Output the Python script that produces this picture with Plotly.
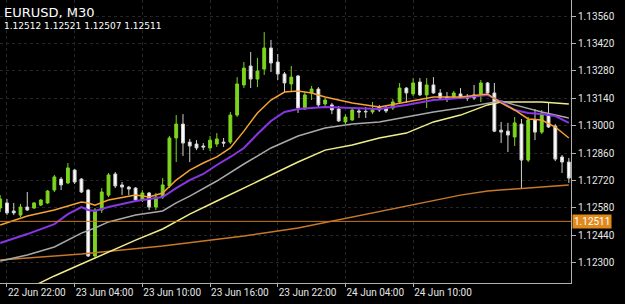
import plotly.graph_objects as go

# ---------------- data ----------------
symbol_title = "EURUSD, M30"
last_ohlc = [1.12512, 1.12521, 1.12507, 1.12511]
bid_price = 1.12511

bars = list(range(85))
opens = [1.12579,1.12605,1.12564,1.12543,1.12584,1.12579,1.12594,1.12605,1.12671,1.12727,
         1.12707,1.12773,1.12727,1.12671,1.12334,1.12569,1.12645,1.12753,1.12697,1.12686,
         1.12681,1.12620,1.12656,1.12584,1.12635,1.12692,1.12937,1.13008,1.12916,1.12906,
         1.12896,1.12886,1.12906,1.12916,1.12916,1.13054,1.13208,1.13305,1.13238,1.13289,
         1.13397,1.13325,1.13264,1.13213,1.13254,1.13085,1.13167,1.13187,1.13111,1.13106,
         1.13085,1.13019,1.13029,1.13075,1.13073,1.13070,1.13095,1.13090,1.13090,1.13121,
         1.13192,1.13162,1.13223,1.13157,1.13208,1.13167,1.13146,1.13146,1.13162,1.13146,
         1.13157,1.13162,1.13218,1.13167,1.12977,1.12972,1.12942,1.13008,1.12824,1.13029,
         1.12967,1.13059,1.12998,1.12840,1.12814]
highs = [1.12645,1.12625,1.12605,1.12600,1.12661,1.12610,1.12625,1.12671,1.12748,1.12738,
         1.12809,1.12778,1.12732,1.12676,1.12579,1.12681,1.12758,1.12763,1.12712,1.12692,
         1.12686,1.12671,1.12661,1.12656,1.12732,1.12947,1.13054,1.13059,1.12932,1.12926,
         1.12911,1.12947,1.12962,1.12937,1.13070,1.13248,1.13325,1.13376,1.13346,1.13478,
         1.13438,1.13366,1.13274,1.13305,1.13259,1.13172,1.13203,1.13197,1.13141,1.13116,
         1.13100,1.13059,1.13095,1.13085,1.13095,1.13121,1.13106,1.13100,1.13136,1.13218,
         1.13197,1.13243,1.13243,1.13243,1.13248,1.13187,1.13172,1.13177,1.13192,1.13162,
         1.13208,1.13233,1.13223,1.13218,1.13019,1.13014,1.13044,1.13034,1.13044,1.13085,
         1.13080,1.13116,1.13008,1.12850,1.12835]
lows = [1.12559,1.12543,1.12543,1.12533,1.12564,1.12574,1.12589,1.12600,1.12661,1.12671,
        1.12702,1.12702,1.12656,1.12329,1.12324,1.12554,1.12635,1.12681,1.12645,1.12645,
        1.12615,1.12610,1.12569,1.12569,1.12625,1.12681,1.12814,1.12845,1.12814,1.12875,
        1.12875,1.12870,1.12891,1.12891,1.12906,1.13044,1.13192,1.13192,1.13197,1.13259,
        1.13274,1.13233,1.13167,1.13172,1.13065,1.13080,1.13131,1.13095,1.13100,1.13059,
        1.13019,1.13008,1.13024,1.13039,1.13039,1.13059,1.13070,1.13065,1.13080,1.13111,
        1.13116,1.13151,1.13151,1.13090,1.13162,1.13131,1.13121,1.13136,1.13136,1.13126,
        1.13131,1.13121,1.13162,1.12967,1.12911,1.12865,1.12896,1.12681,1.12814,1.12926,
        1.12957,1.12988,1.12819,1.12758,1.12707]
closes = [1.12625,1.12554,1.12554,1.12584,1.12569,1.12605,1.12620,1.12666,1.12738,1.12697,
          1.12784,1.12712,1.12661,1.12334,1.12569,1.12661,1.12748,1.12692,1.12686,1.12676,
          1.12620,1.12656,1.12584,1.12635,1.12697,1.12937,1.13008,1.12911,1.12896,1.12886,
          1.12891,1.12926,1.12932,1.12911,1.13054,1.13213,1.13294,1.13238,1.13279,1.13397,
          1.13320,1.13264,1.13218,1.13248,1.13090,1.13157,1.13187,1.13106,1.13131,1.13080,
          1.13024,1.13044,1.13080,1.13070,1.13071,1.13080,1.13080,1.13075,1.13121,1.13192,
          1.13167,1.13218,1.13157,1.13208,1.13167,1.13141,1.13141,1.13167,1.13141,1.13141,
          1.13141,1.13218,1.13167,1.12972,1.12967,1.12952,1.13014,1.12824,1.13029,1.12967,
          1.13059,1.12993,1.12829,1.12814,1.12732]

ma_orange_x = [0,2,4,8,10,12,13,14,16,20,22,24,26,28,30,32,34,36,38,40,42,44,46,48,52,56,60,64,68,72,74,76,78,80,82,84]
ma_orange = [1.12492,1.12513,1.12538,1.12569,1.12589,1.12610,1.12605,1.12594,1.12620,1.12645,
             1.12635,1.12656,1.12722,1.12773,1.12809,1.12840,1.12886,1.12972,1.13065,1.13131,
             1.13172,1.13177,1.13167,1.13146,1.13116,1.13095,1.13121,1.13146,1.13146,1.13162,
             1.13116,1.13080,1.13034,1.13029,1.12993,1.12937]
ma_purple_x = [0,4,8,10,12,13,14,16,20,24,26,28,30,32,34,36,38,40,42,44,48,52,56,60,64,68,72,74,76,78,80,82,84]
ma_purple = [1.12400,1.12446,1.12497,1.12548,1.12584,1.12569,1.12564,1.12584,1.12615,1.12635,
             1.12681,1.12722,1.12753,1.12799,1.12840,1.12886,1.12957,1.13024,1.13070,1.13085,
             1.13095,1.13090,1.13085,1.13106,1.13131,1.13141,1.13157,1.13121,1.13080,1.13065,
             1.13059,1.13049,1.13014]
ma_gray_x = [0,4,8,12,14,16,20,24,26,28,32,36,40,44,48,52,56,60,64,68,72,74,76,80,84]
ma_gray = [1.12308,1.12339,1.12380,1.12451,1.12477,1.12508,1.12543,1.12564,1.12605,1.12640,
           1.12717,1.12804,1.12886,1.12947,1.12988,1.13008,1.13019,1.13044,1.13070,1.13090,
           1.13116,1.13126,1.13106,1.13070,1.13039]
ma_yellow_x = [4,8,12,14,16,20,24,28,32,36,40,44,48,52,56,60,64,68,72,74,76,80,84]
ma_yellow = [1.12165,1.12232,1.12293,1.12324,1.12354,1.12415,1.12472,1.12548,1.12615,1.12681,
             1.12748,1.12814,1.12875,1.12901,1.12937,1.12962,1.13019,1.13054,1.13106,1.13121,
             1.13121,1.13121,1.13111]
ma_brown_x = [0,12,24,36,44,52,60,64,68,72,76,80,84]
ma_brown = [1.12313,1.12344,1.12385,1.12436,1.12477,1.12533,1.12589,1.12620,1.12645,1.12666,
            1.12676,1.12686,1.12697]

time_tick_bars = [1, 11, 21, 31, 41, 51, 61]
time_tick_labels = ["22 Jun 22:00", "23 Jun 04:00", "23 Jun 10:00", "23 Jun 16:00",
                    "23 Jun 22:00", "24 Jun 04:00", "24 Jun 10:00"]
price_ticks = [1.13560, 1.13420, 1.13280, 1.13140, 1.13000, 1.12860, 1.12720,
               1.12580, 1.12440, 1.12300]

# ---------------- figure ----------------
GREEN = "#7cd41e"
FONT = "Roboto"
HFONT = "DejaVu Sans"

fig = go.Figure()

def ma(xs, ys, color, w):
    fig.add_trace(go.Scatter(x=xs, y=ys, mode="lines", line=dict(color=color, width=w),
                             hoverinfo="skip", showlegend=False))

ma(ma_brown_x, ma_brown, "#c8782a", 1.5)
ma(ma_yellow_x, ma_yellow, "#f2ec8a", 1.5)
ma(ma_gray_x, ma_gray, "#a9a9a9", 1.5)
ma(ma_purple_x, ma_purple, "#8a35e6", 2)
ma(ma_orange_x, ma_orange, "#f5a236", 1.5)

fig.add_trace(go.Candlestick(
    x=bars, open=opens, high=highs, low=lows, close=closes,
    increasing=dict(line=dict(color=GREEN, width=1), fillcolor=GREEN),
    decreasing=dict(line=dict(color="#d0d0d0", width=1), fillcolor="#ffffff"),
    whiskerwidth=0, showlegend=False, hoverinfo="skip"))

fig.add_hline(y=bid_price, line=dict(color="#cc7a26", width=1))

fig.add_annotation(x=1, y=bid_price, xref="paper", yref="y", text=f"{bid_price:.5f}",
                   xanchor="left", yanchor="middle", xshift=1, showarrow=False,
                   bgcolor="#e08a1c", borderpad=1,
                   font=dict(family=FONT, size=10, color="#ffffff"))

fig.add_annotation(x=0.006, y=1 - 4/283, xref="paper", yref="paper", text=symbol_title,
                   xanchor="left", yanchor="top", showarrow=False, borderpad=0,
                   font=dict(family=HFONT, size=13, color="#ffffff"))
fig.add_annotation(x=0.006, y=1 - 20.5/283, xref="paper", yref="paper",
                   text=" ".join(f"{v:.5f}" for v in last_ohlc),
                   xanchor="left", yanchor="top", showarrow=False, borderpad=0,
                   font=dict(family=HFONT, size=9, color="#ffffff"))

fig.update_layout(
    width=625, height=304, margin=dict(l=0, r=54, t=0, b=21),
    paper_bgcolor="#000000", plot_bgcolor="#000000",
    boxgap=0.4, showlegend=False,
    xaxis=dict(range=[-0.03, 84.32], rangeslider=dict(visible=False),
               tickmode="array", tickvals=time_tick_bars, ticktext=time_tick_labels,
               ticklabelposition="outside right", ticks="outside", ticklen=3,
               tickcolor="#b0b0b0", showline=True, linecolor="#b0b0b0", mirror=True,
               showgrid=True, gridcolor="#262626", griddash="dot", gridwidth=1,
               zeroline=False, tickfont=dict(family=FONT, size=10, color="#e6e6e6")),
    yaxis=dict(range=[1.12196, 1.13642], side="right", tickmode="array",
               tickvals=price_ticks, ticktext=[f"{v:.5f}" for v in price_ticks],
               ticks="outside", ticklen=4, tickcolor="#b0b0b0",
               showline=True, linecolor="#b0b0b0", mirror=True,
               showgrid=True, gridcolor="#262626", griddash="dot", gridwidth=1,
               zeroline=False, tickfont=dict(family=FONT, size=10, color="#e6e6e6")),
)

fig.write_html("out.html")
